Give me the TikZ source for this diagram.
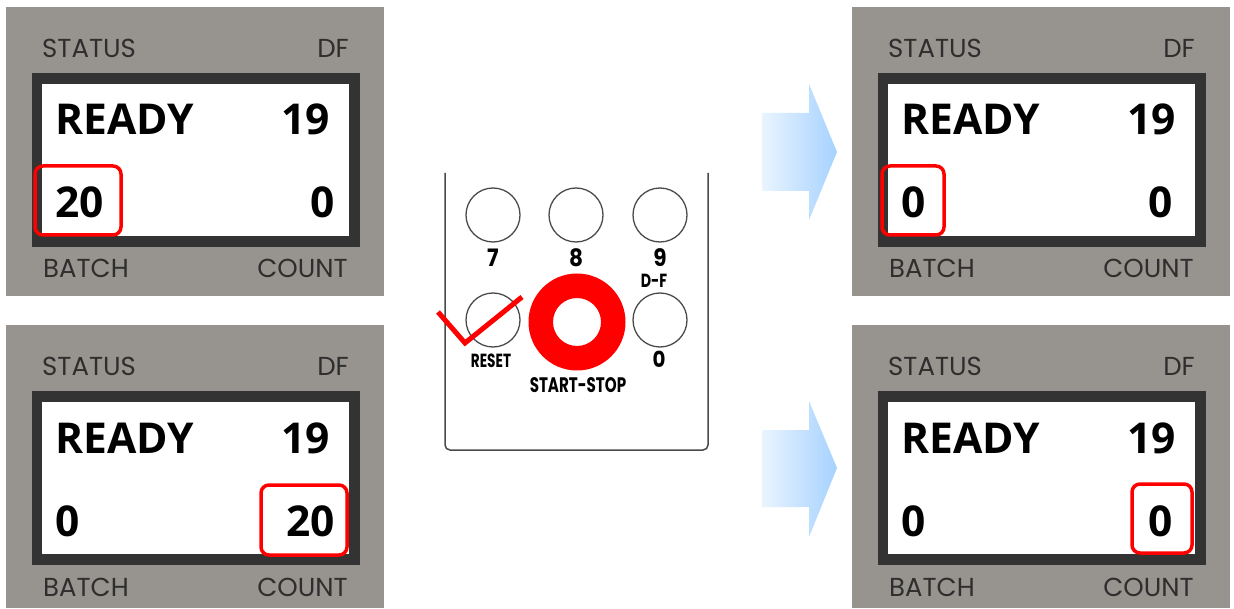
\documentclass[tikz,border=0pt]{standalone}
\usepackage{fontspec}
\setmainfont{Open Sans}
\newfontfamily\lblfont{Poppins}
\newfontfamily\keyfont{Poppins}
\definecolor{panelgray}{HTML}{97938E}
\definecolor{framedark}{HTML}{333333}
\definecolor{lbltext}{HTML}{2E2E2E}
\definecolor{keyline}{HTML}{4A4A4A}
\definecolor{arrowL}{HTML}{EAF4FF}
\definecolor{arrowR}{HTML}{A6D2FF}
\definecolor{hired}{HTML}{FF0000}
\tikzset{
  lbl/.style={inner sep=0pt, text=lbltext, font=\lblfont\fontsize{26}{26}\selectfont},
  big/.style={inner sep=0pt, text=black, font=\bfseries\fontsize{42.5}{43}\selectfont},
  redbox/.style={draw=hired, line width=3.5pt, rounded corners=8pt},
  keycircle/.style={draw=keyline, line width=1.3pt, circle, minimum size=54pt, inner sep=0pt},
  keylbl/.style={inner sep=0pt, text=black},
  bluearrow/.style={left color=arrowL, right color=arrowR, draw=none},
}
% #1 prefix, #2 dx, #3 dy, #4 left value, #5 right value, #6 right value x, #7 gray bottom
\newcommand\lcdpanel[7]{%
\begin{scope}[shift={(#2,#3)}, name prefix=#1-]
  \fill[panelgray] (6,7) rectangle (384,#7);
  \fill[framedark] (32,73) rectangle (360,247);
  \fill[white] (42,84) rectangle (349,236);
  \node[lbl, anchor=base west] (status) at (42,58) {STATUS};
  \node[lbl, anchor=base east] (df) at (349,58) {DF};
  \node[big, anchor=base west] (ready) at (55,135) {READY};
  \node[big, anchor=base east] (nineteen) at (330,135) {19};
  \node[big, anchor=base west] (batchval) at (55,218) {#4};
  \node[big, anchor=base east] (countval) at (#6,218) {#5};
  \node[lbl, anchor=base west] (batch) at (43,278) {BATCH};
  \node[lbl, anchor=base east] (count) at (348,278) {COUNT};
\end{scope}}
\begin{document}
\begin{tikzpicture}[x=1pt,y=-1pt]
\useasboundingbox (0,0) rectangle (1234,609);
% panels
\lcdpanel{tl}{0}{0}{20}{0}{335}{296}
\lcdpanel{bl}{0}{318}{0}{20}{335}{290}
\lcdpanel{tr}{846}{0}{0}{0}{327}{296}
\lcdpanel{br}{846}{318}{0}{0}{327}{290}
% red highlight boxes
\draw[redbox] (35,166) rectangle (121,235);
\draw[redbox] (261,485) rectangle (347,555);
\draw[redbox] (882,166) rectangle (944,235);
\draw[redbox] (1132,484) rectangle (1192,553);
% arrows
\shade[bluearrow] (762,113) -- (809,113) -- (809,84) -- (837,152) -- (809,220) -- (809,191) -- (762,191) -- cycle;
\shade[bluearrow] (762,430) -- (809,430) -- (809,401) -- (837,468) -- (809,537) -- (809,507) -- (762,507) -- cycle;
% keypad
\draw[keyline, line width=1.5pt, rounded corners=5pt] (445,173) -- (445,450) -- (708,450) -- (708,173);
\node[keycircle] (k7) at (493,215) {};
\node[keycircle] (k8) at (576,215) {};
\node[keycircle] (k9) at (660,215) {};
\node[keycircle] (kreset) at (493,320) {};
\node[keycircle] (k0) at (660,320) {};
\fill[hired, even odd rule] (577,322) circle[radius=48.5] (577,322) circle[radius=24];
\coordinate (ss) at (577,322);
\node[keylbl, anchor=base, font=\keyfont\bfseries\fontsize{24}{24}\selectfont] (l7) at (493,267) {\scalebox{0.9}[1]{7}};
\node[keylbl, anchor=base, font=\keyfont\bfseries\fontsize{24}{24}\selectfont] (l8) at (576,267) {\scalebox{0.9}[1]{8}};
\node[keylbl, anchor=base, font=\keyfont\bfseries\fontsize{24}{24}\selectfont] (l9) at (660,267) {\scalebox{0.9}[1]{9}};
\node[keylbl, anchor=base, font=\keyfont\bfseries\fontsize{19}{19}\selectfont] (ldf) at (654,288) {\scalebox{0.75}[1]{D-F}};
\node[keylbl, anchor=base, font=\keyfont\bfseries\fontsize{19}{19}\selectfont] (lreset) at (491,368) {\scalebox{0.72}[1]{RESET}};
\node[keylbl, anchor=base, font=\keyfont\bfseries\fontsize{22}{22}\selectfont] (l0) at (659,368) {\scalebox{0.9}[1]{0}};
\node[keylbl, anchor=base, font=\keyfont\bfseries\fontsize{21}{21}\selectfont] (lss) at (578,392) {\scalebox{0.72}[1]{START-STOP}};
% check mark
\coordinate (ca) at (438,312);
\coordinate (cb) at (465,343);
\coordinate (cc) at (522,297);
\draw[hired, line width=5pt] (ca) -- (cb) -- (cc);
\end{tikzpicture}
\end{document}
